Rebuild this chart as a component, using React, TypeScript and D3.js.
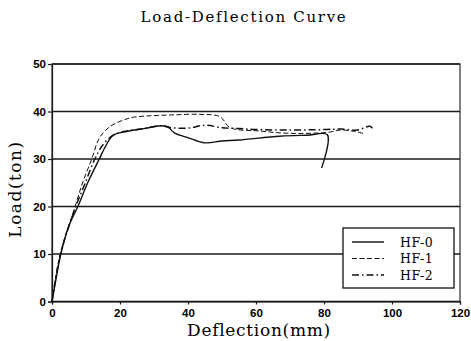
import { useEffect, useRef } from 'react';
import * as d3 from 'd3';

type Pt = [number, number];

const xTicks = [0, 20, 40, 60, 80, 100, 120];
const yTicks = [0, 10, 20, 30, 40, 50];

const seriesNames = ['HF-0', 'HF-1', 'HF-2'];

// deflection (mm), load (ton)
const hf0: Pt[] = [
  [0, 0], [1, 4], [2.6, 10], [5, 16], [7.6, 20], [10.5, 25], [13.9, 30], [16, 33],
  [18, 35], [22, 35.8], [27, 36.4], [32, 37], [34, 36.8], [36, 35.5], [40, 34.5],
  [45, 33.4], [50, 33.8], [55, 34], [67, 34.8], [75, 35], [81, 35.1], [79.3, 28.1],
];

const hf1: Pt[] = [
  [0, 0], [2.4, 10], [6.8, 20], [9, 25], [11.7, 30], [14, 34.5], [17, 36.8],
  [21, 38.2], [24, 38.8], [29, 39.1], [36, 39.3], [43.5, 39.4], [49.4, 38.9],
  [52.4, 36.6], [61, 35.9], [70, 35.4], [81, 35.6], [85, 36.1], [89, 35.8], [91.5, 35.4],
];

const hf2: Pt[] = [
  [0, 0], [2.5, 10], [7, 20], [9.8, 25], [12.6, 30], [15, 33], [18, 35], [22, 35.9],
  [27, 36.4], [32, 37], [35, 36.6], [40, 36.5], [45, 37.1], [50, 36.6], [55, 36.4],
  [60, 36.2], [70, 36.1], [80, 36.2], [85, 36.3], [90, 36.1], [93.5, 36.9], [94.4, 36.3],
];

const dashes = ['', '5,2.5', '7,3,1.5,3'];
const widths = [1.4, 1, 1.5];

const serif = '"DejaVu Serif", serif';
const sans = '"Liberation Sans", Arial, sans-serif';

export default function App() {
  const svgRef = useRef<SVGSVGElement>(null);

  useEffect(() => {
    if (!svgRef.current) return;
    const svg = d3.select(svgRef.current);
    svg.selectAll('*').remove();

    const x = d3.scaleLinear().domain([0, 120]).range([52, 460]);
    const y = d3.scaleLinear().domain([0, 50]).range([301.5, 64]);

    svg.append('rect').attr('width', 471).attr('height', 341).attr('fill', '#fff');

    // grid lines
    svg.selectAll('.grid')
      .data(yTicks)
      .enter()
      .append('line')
      .attr('x1', x(0))
      .attr('x2', x(120))
      .attr('y1', d => y(d))
      .attr('y2', d => y(d))
      .attr('stroke', '#1a1a1a')
      .attr('stroke-width', 1.4);

    // frame
    svg.append('rect')
      .attr('x', x(0))
      .attr('y', y(50))
      .attr('width', x(120) - x(0))
      .attr('height', y(0) - y(50))
      .attr('fill', 'none')
      .attr('stroke', '#1a1a1a')
      .attr('stroke-width', 1.1);

    const yAxis = d3.axisLeft(y).tickValues(yTicks).tickSize(4).tickPadding(2);
    const gy = svg.append('g').attr('transform', `translate(${x(0)},0)`).call(yAxis);
    gy.select('.domain').attr('stroke', '#1a1a1a').attr('stroke-width', 1.2);
    gy.selectAll('line').attr('stroke', '#1a1a1a').attr('stroke-width', 1.2);
    gy.selectAll('text')
      .style('font-family', sans)
      .style('font-weight', 'bold')
      .style('font-size', '11.5px')
      .attr('fill', '#000');

    const xAxis = d3.axisBottom(x).tickValues(xTicks).tickSize(3).tickPadding(4);
    const gx = svg.append('g').attr('transform', `translate(0,${y(0)})`).call(xAxis);
    gx.select('.domain').attr('stroke', '#1a1a1a').attr('stroke-width', 1.2);
    gx.selectAll('line').attr('stroke', '#1a1a1a').attr('stroke-width', 1.2);
    gx.selectAll('text')
      .style('font-family', sans)
      .style('font-weight', 'bold')
      .style('font-size', '11.5px')
      .attr('fill', '#000');

    const line = d3.line<Pt>()
      .x(d => x(d[0]))
      .y(d => y(d[1]))
      .curve(d3.curveCatmullRom.alpha(0.5));

    [hf0, hf1, hf2].forEach((data, i) => {
      svg.append('path')
        .datum(data)
        .attr('fill', 'none')
        .attr('stroke', '#111')
        .attr('stroke-width', widths[i])
        .attr('stroke-dasharray', dashes[i] || null)
        .attr('d', line);
    });

    // legend
    const lg = svg.append('g');
    lg.append('rect')
      .attr('x', 343).attr('y', 228).attr('width', 111).attr('height', 60)
      .attr('fill', '#fff').attr('stroke', '#111').attr('stroke-width', 1.3);
    seriesNames.forEach((name, i) => {
      const yy = 242 + i * 16.5;
      lg.append('line')
        .attr('x1', 352).attr('x2', 384).attr('y1', yy).attr('y2', yy)
        .attr('stroke', '#111')
        .attr('stroke-width', widths[i])
        .attr('stroke-dasharray', dashes[i] || null);
      lg.append('text')
        .attr('x', 400).attr('y', yy + 4.5)
        .style('font-family', serif)
        .style('font-size', '12.5px')
        .style('letter-spacing', '0.5px')
        .attr('fill', '#000')
        .text(name);
    });

    // titles
    svg.append('text')
      .attr('x', 244).attr('y', 22)
      .attr('text-anchor', 'middle')
      .style('font-family', serif)
      .style('font-size', '15px')
      .style('letter-spacing', '1.7px')
      .attr('fill', '#000')
      .text('Load-Deflection Curve');

    svg.append('text')
      .attr('x', 259).attr('y', 336)
      .attr('text-anchor', 'middle')
      .style('font-family', serif)
      .style('font-size', '17px')
      .style('letter-spacing', '0.7px')
      .attr('fill', '#000')
      .text('Deflection(mm)');

    svg.append('text')
      .attr('transform', 'translate(21,189) rotate(-90)')
      .attr('text-anchor', 'middle')
      .style('font-family', serif)
      .style('font-size', '17px')
      .style('letter-spacing', '1.5px')
      .attr('fill', '#000')
      .text('Load(ton)');
  }, []);

  return (
    <svg
      ref={svgRef}
      width={471}
      height={341}
      style={{ position: 'absolute', left: 0, top: 0, display: 'block' }}
    />
  );
}
